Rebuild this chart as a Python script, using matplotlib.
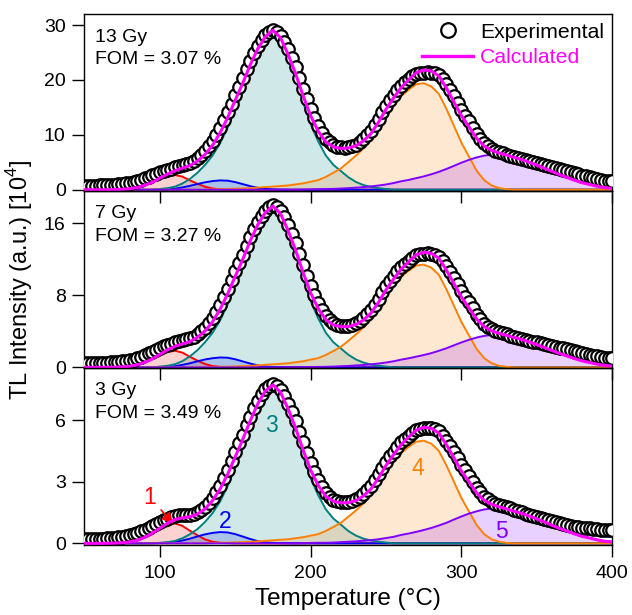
import numpy as np
import matplotlib
matplotlib.use('agg')
import matplotlib.pyplot as plt
from matplotlib.lines import Line2D

plt.rcParams['font.family'] = ['Liberation Sans', 'DejaVu Sans']
plt.rcParams['mathtext.fontset'] = 'custom'
plt.rcParams['mathtext.rm'] = 'Liberation Sans'

# fitted components, read every 5 degC, each list starts at the given temperature
t_fit = np.arange(50, 401, 5)
start_red, start_blue, start_teal, start_orange, start_purple = 65, 95, 100, 135, 195

red13 = [0.01, 0.03, 0.08, 0.19, 0.41, 0.81, 1.35, 1.94, 2.48, 2.7, 2.38, 1.7, 1.08, 0.54, 0.22, 0.08, 0.03]
red7 = [0.01, 0.02, 0.06, 0.13, 0.28, 0.56, 0.93, 1.33, 1.7, 1.85, 1.63, 1.17, 0.74, 0.37, 0.15, 0.06, 0.02]
red3 = [0.005, 0.01, 0.03, 0.07, 0.15, 0.29, 0.49, 0.7, 0.89, 0.97, 0.85, 0.61, 0.39, 0.19, 0.08, 0.03, 0.01]

blue13 = [0.02, 0.03, 0.09, 0.2, 0.43, 0.71, 1.05, 1.36, 1.58, 1.7, 1.65, 1.39, 1.02, 0.65, 0.34, 0.15, 0.07, 0.03, 0.01]
blue7 = [0.01, 0.02, 0.06, 0.13, 0.28, 0.46, 0.68, 0.88, 1.02, 1.1, 1.07, 0.9, 0.66, 0.42, 0.22, 0.1, 0.04, 0.02, 0.01]
blue3 = [0.005, 0.01, 0.03, 0.07, 0.14, 0.23, 0.34, 0.44, 0.51, 0.55, 0.53, 0.45, 0.33, 0.21, 0.11, 0.05, 0.02, 0.01, 0.005]

teal13 = [0.14, 0.28, 0.57, 1.14, 1.99, 3.12, 4.54, 6.25, 8.52, 11.36,
          14.77, 18.18, 21.87, 24.99, 27.26, 28.4, 26.98, 23.86, 20.16, 15.9,
          11.93, 8.8, 6.25, 4.54, 3.41, 2.27, 1.42, 0.85, 0.51, 0.28, 0.14]
teal7 = [0.09, 0.18, 0.35, 0.7, 1.23, 1.93, 2.8, 3.85, 5.25, 7.0,
         9.1, 11.2, 13.48, 15.4, 16.8, 17.5, 16.63, 14.7, 12.43, 9.8,
         7.35, 5.43, 3.85, 2.8, 2.1, 1.4, 0.88, 0.53, 0.32, 0.18, 0.09]
teal3 = [0.03, 0.06, 0.12, 0.25, 0.45, 0.7, 1.05, 1.48, 2.05, 2.8,
         3.72, 4.68, 5.7, 6.6, 7.25, 7.55, 7.17, 6.34, 5.36, 4.23,
         3.17, 2.34, 1.66, 1.21, 0.91, 0.6, 0.38, 0.23, 0.14, 0.08, 0.04]

orange13 = [0.08, 0.1, 0.14,
            0.19, 0.23, 0.29, 0.39, 0.49, 0.58, 0.68, 0.78, 0.97, 1.16,
            1.46, 1.75, 2.33, 3.1, 3.88, 5.04, 6.21, 7.57, 9.12, 11.25,
            13.58, 15.52, 17.07, 18.24, 19.21, 19.4, 18.82, 17.46, 14.74, 11.64,
            8.54, 6.01, 3.49, 1.75, 0.78, 0.29, 0.1]
orange7 = [0.05, 0.06, 0.08,
           0.11, 0.14, 0.17, 0.23, 0.29, 0.34, 0.4, 0.46, 0.57, 0.68,
           0.86, 1.03, 1.37, 1.82, 2.28, 2.96, 3.65, 4.45, 5.36, 6.61,
           7.98, 9.12, 10.03, 10.72, 11.29, 11.4, 11.06, 10.26, 8.66, 6.84,
           5.02, 3.53, 2.05, 1.03, 0.46, 0.17, 0.06]
orange3 = [0.02, 0.025, 0.035,
           0.05, 0.06, 0.075, 0.1, 0.125, 0.15, 0.175, 0.2, 0.25, 0.3,
           0.375, 0.45, 0.6, 0.8, 1.0, 1.3, 1.6, 1.95, 2.35, 2.9,
           3.5, 4.0, 4.4, 4.7, 4.95, 5.0, 4.85, 4.5, 3.8, 3.0,
           2.2, 1.55, 0.9, 0.45, 0.2, 0.075, 0.025]

purple13 = [0.03,
            0.06, 0.1, 0.13, 0.16, 0.22, 0.29, 0.38, 0.48, 0.61, 0.77,
            0.96, 1.22, 1.54, 1.79, 2.11, 2.43, 2.82, 3.26, 3.78, 4.35,
            4.93, 5.44, 5.89, 6.21, 6.4, 6.4, 6.21, 5.89, 5.5, 4.99,
            4.48, 3.9, 3.33, 2.75, 2.24, 1.73, 1.28, 0.96, 0.64, 0.38,
            0.26]
purple7 = [0.02,
           0.04, 0.05, 0.07, 0.09, 0.13, 0.16, 0.22, 0.27, 0.34, 0.43,
           0.54, 0.68, 0.86, 1.01, 1.19, 1.37, 1.58, 1.84, 2.12, 2.45,
           2.77, 3.06, 3.31, 3.49, 3.6, 3.6, 3.49, 3.31, 3.1, 2.81,
           2.52, 2.2, 1.87, 1.55, 1.26, 0.97, 0.72, 0.54, 0.36, 0.22,
           0.14]
purple3 = [0.01,
           0.02, 0.03, 0.03, 0.04, 0.06, 0.08, 0.1, 0.13, 0.16, 0.2,
           0.26, 0.32, 0.41, 0.48, 0.56, 0.65, 0.75, 0.87, 1.0, 1.16,
           1.31, 1.45, 1.56, 1.65, 1.7, 1.7, 1.65, 1.56, 1.46, 1.33,
           1.19, 1.04, 0.88, 0.73, 0.6, 0.46, 0.34, 0.26, 0.17, 0.1,
           0.07]

# experimental glow curves, read every 2.5 degC from 50 to 400
t_exp = np.linspace(50, 400, 141)
exp13 = [0.75, 0.75, 0.75, 0.77, 0.8, 0.83, 0.86, 0.89, 0.93, 1.0,
         1.08, 1.18, 1.29, 1.44, 1.61, 1.85, 2.11, 2.39, 2.67, 2.95,
         3.21, 3.44, 3.65, 3.86, 4.07, 4.26, 4.45, 4.65, 4.9, 5.29,
         5.75, 6.36, 7.04, 7.88, 8.83, 9.98, 11.2, 12.62, 14.08, 15.67,
         17.25, 18.8, 20.33, 21.95, 23.51, 24.95, 26.22, 27.32, 28.2, 28.8,
         29.15, 28.8, 28.09, 26.95, 25.55, 24.0, 22.33, 20.4, 18.39, 16.45,
         14.65, 13.05, 11.65, 10.4, 9.31, 8.62, 8.1, 7.85, 7.71, 7.66,
         7.7, 7.9, 8.21, 8.7, 9.3, 9.98, 10.74, 11.8, 12.9, 14.1,
         15.28, 16.3, 17.24, 18.1, 18.91, 19.55, 20.13, 20.66, 21.12, 21.28,
         21.33, 21.38, 21.34, 21.2, 20.92, 20.15, 19.22, 18.15, 16.99, 15.78,
         14.57, 13.5, 12.45, 11.3, 10.18, 9.3, 8.56, 8.0, 7.48, 7.13,
         6.84, 6.61, 6.41, 6.22, 6.01, 5.84, 5.65, 5.42, 5.19, 5.0,
         4.83, 4.64, 4.45, 4.29, 4.13, 3.94, 3.75, 3.57, 3.39, 3.19,
         2.98, 2.78, 2.58, 2.42, 2.26, 2.1, 1.94, 1.78, 1.63, 1.56,
         1.51]
exp7 = [0.45, 0.46, 0.47, 0.48, 0.5, 0.51, 0.53, 0.55, 0.57, 0.61,
        0.66, 0.71, 0.78, 0.87, 0.99, 1.16, 1.36, 1.55, 1.74, 1.94,
        2.14, 2.32, 2.49, 2.64, 2.78, 2.9, 3.01, 3.1, 3.21, 3.4,
        3.65, 3.99, 4.4, 4.9, 5.47, 6.18, 6.97, 7.83, 8.72, 9.7,
        10.66, 11.58, 12.5, 13.5, 14.47, 15.35, 16.15, 16.83, 17.39, 17.78,
        17.98, 17.8, 17.35, 16.62, 15.77, 14.82, 13.8, 12.6, 11.35, 10.15,
        9.05, 8.05, 7.16, 6.36, 5.69, 5.24, 4.91, 4.73, 4.61, 4.58,
        4.62, 4.73, 4.9, 5.17, 5.5, 5.9, 6.37, 6.97, 7.62, 8.32,
        9.01, 9.6, 10.15, 10.65, 11.09, 11.45, 11.78, 12.13, 12.43, 12.56,
        12.62, 12.63, 12.59, 12.47, 12.25, 11.8, 11.23, 10.6, 9.94, 9.22,
        8.49, 7.85, 7.24, 6.53, 5.86, 5.33, 4.82, 4.5, 4.26, 4.06,
        3.89, 3.76, 3.65, 3.52, 3.39, 3.3, 3.2, 3.08, 2.96, 2.86,
        2.77, 2.67, 2.58, 2.48, 2.39, 2.3, 2.2, 2.1, 2.01, 1.89,
        1.77, 1.66, 1.56, 1.48, 1.4, 1.31, 1.22, 1.15, 1.08, 1.04,
        1.0]
exp3 = [0.2, 0.2, 0.21, 0.21, 0.22, 0.23, 0.25, 0.26, 0.27, 0.3,
        0.33, 0.37, 0.42, 0.47, 0.52, 0.59, 0.67, 0.76, 0.86, 0.96,
        1.05, 1.13, 1.2, 1.28, 1.34, 1.37, 1.39, 1.39, 1.39, 1.45,
        1.53, 1.64, 1.78, 1.98, 2.21, 2.5, 2.81, 3.19, 3.58, 4.0,
        4.44, 4.87, 5.29, 5.74, 6.17, 6.57, 6.93, 7.25, 7.51, 7.68,
        7.77, 7.67, 7.48, 7.16, 6.8, 6.4, 5.96, 5.44, 4.91, 4.4,
        3.92, 3.49, 3.1, 2.76, 2.47, 2.28, 2.13, 2.05, 2.0, 1.99,
        2.01, 2.06, 2.14, 2.26, 2.41, 2.59, 2.8, 3.07, 3.36, 3.67,
        3.98, 4.24, 4.47, 4.7, 4.91, 5.07, 5.21, 5.37, 5.51, 5.57,
        5.6, 5.61, 5.6, 5.55, 5.45, 5.25, 5.0, 4.73, 4.44, 4.14,
        3.83, 3.56, 3.3, 3.0, 2.71, 2.48, 2.28, 2.14, 2.02, 1.94,
        1.88, 1.83, 1.78, 1.71, 1.64, 1.57, 1.51, 1.45, 1.39, 1.33,
        1.27, 1.22, 1.17, 1.12, 1.08, 1.03, 0.98, 0.94, 0.9, 0.86,
        0.82, 0.79, 0.76, 0.74, 0.73, 0.71, 0.69, 0.67, 0.65, 0.65,
        0.65]

doses = ['13 Gy', '7 Gy', '3 Gy']
foms = ['FOM = 3.07 %', 'FOM = 3.27 %', 'FOM = 3.49 %']
yticks = [[0, 10, 20, 30], [0, 8, 16], [0, 3, 6]]
ylims = [(-0.27, 31.95), (-0.08, 19.53), (-0.08, 8.53)]

comp_colors = ['#ff0000', '#0000ff', '#008080', '#ff8000', '#8000ff']
starts = [start_red, start_blue, start_teal, start_orange, start_purple]
panels = [
    ([red13, blue13, teal13, orange13, purple13], exp13),
    ([red7, blue7, teal7, orange7, purple7], exp7),
    ([red3, blue3, teal3, orange3, purple3], exp3),
]


def on_grid(start, vals):
    y = np.zeros(len(t_fit))
    i = int((start - 50) / 5)
    y[i:i + len(vals)] = vals
    return y


fig, axs = plt.subplots(3, 1, sharex=True, figsize=(6.32, 6.15), dpi=100)
fig.subplots_adjust(left=0.1337, right=0.9688, top=0.9767, bottom=0.1138, hspace=0)

for k, ax in enumerate(axs):
    comps, exp = panels[k]
    ax.patch.set_alpha(0)
    curves = [on_grid(s, c) for s, c in zip(starts, comps)]
    for y, col in zip(curves, comp_colors):
        ax.fill_between(t_fit, y, color=col, alpha=0.18, lw=0)
        ax.plot(t_fit, y, color=col, lw=1.4)
    calc = np.sum(curves, axis=0)
    ax.plot(t_exp, exp, 'o', mfc='white', mec='black', ms=9, mew=1.6, zorder=3)
    ax.plot(t_fit, calc, color='#ff00ff', lw=2.2, zorder=4)

    ax.set_xlim(50, 400)
    ax.set_ylim(*ylims[k])
    ax.set_yticks(yticks[k])
    ax.set_xticks([100, 200, 300, 400])
    ax.tick_params(direction='out', length=8.5, width=1, labelsize=14, pad=5)
    ax.tick_params(axis='x', pad=6)
    for sp in ax.spines.values():
        sp.set_linewidth(1)

    ax.annotate(doses[k], xy=(0, 1), xycoords='axes fraction', xytext=(7.6, -19.6),
                textcoords='offset points', ha='left', va='baseline', fontsize=14)
    ax.annotate(foms[k], xy=(0, 1), xycoords='axes fraction', xytext=(7.6, -35.8),
                textcoords='offset points', ha='left', va='baseline', fontsize=14)

handles = [Line2D([], [], marker='o', ls='none', mfc='white', mec='black', ms=10.5, mew=1.6),
           Line2D([], [], color='#ff00ff', lw=2.4)]
leg = axs[0].legend(handles, ['Experimental', 'Calculated'], loc='upper right', frameon=False,
                    fontsize=15.3, handlelength=2.4, handletextpad=0.3, labelspacing=0.3,
                    borderaxespad=0.4, borderpad=0)
leg.get_texts()[1].set_color('#ff00ff')

# peak numbers in the 3 Gy panel
ax = axs[2]
ax.annotate('1', xy=(108.8, 0.94), xytext=(93.5, 2.25), color='#ff0000', fontsize=16.5,
            ha='center', va='center',
            arrowprops=dict(arrowstyle='-|>', color='#ff0000', lw=1.2, shrinkA=2, shrinkB=0))
ax.text(143.4, 1.05, '2', color='#0000ff', fontsize=16.5, ha='center', va='center')
ax.text(174, 5.76, '3', color='#008080', fontsize=16.5, ha='center', va='center')
ax.text(271.3, 3.66, '4', color='#ff8000', fontsize=16.5, ha='center', va='center')
ax.text(326.4, 0.6, '5', color='#8000ff', fontsize=16.5, ha='center', va='center')

axs[2].set_xlabel('Temperature (\u00b0C)', fontsize=17.5)
axs[2].xaxis.set_label_coords(0.5, -0.245)
axs[1].set_ylabel('TL Intensity (a.u.) [10$^{\\mathregular{4}}$]', fontsize=17)
axs[1].yaxis.set_label_coords(-0.0938, 0.5)

fig.savefig('out.png', dpi=100)
